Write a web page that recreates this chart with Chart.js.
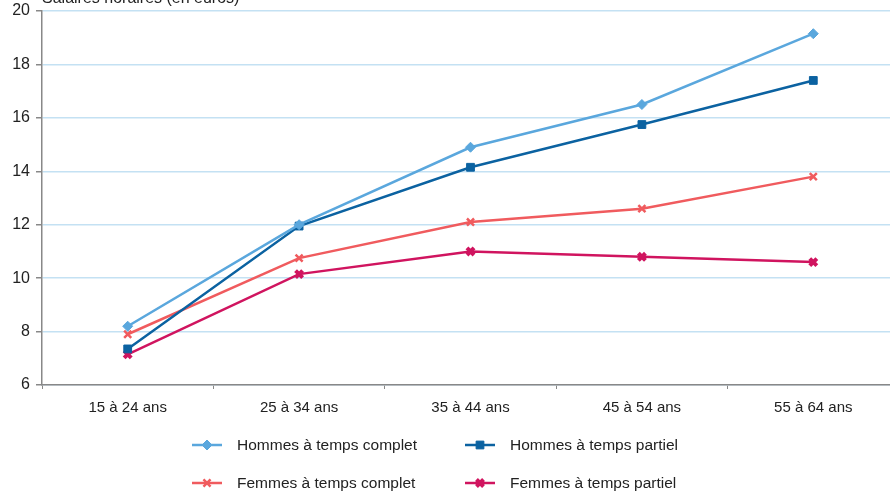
<!DOCTYPE html>
<html>
<head>
<meta charset="utf-8">
<script src="https://cdn.jsdelivr.net/npm/chart.js@4.4.0/dist/chart.umd.min.js"></script>
<style>
  html, body { margin: 0; padding: 0; background: #fff; overflow: hidden; }
</style>
</head>
<body>
<canvas id="graphe" width="908" height="493"></canvas>
<script>
var FONT = "'Liberation Sans', Arial, sans-serif";

var tranches = ["15 à 24 ans", "25 à 34 ans", "35 à 44 ans", "45 à 54 ans", "55 à 64 ans"];
var hommesComplet = [8.2, 12.0, 14.9, 16.5, 19.15];
var hommesPartiel = [7.35, 11.95, 14.15, 15.75, 17.4];
var femmesComplet = [7.9, 10.75, 12.1, 12.6, 13.8];
var femmesPartiel = [7.15, 10.15, 11.0, 10.8, 10.6];
var titreAxe = "Salaires horaires (en euros)";

function serie(label, data, couleur, forme, rayon, epaisseur) {
    return {
        label: label,
        data: data,
        borderColor: couleur,
        backgroundColor: couleur,
        borderWidth: 2.5,
        pointStyle: forme,
        pointRadius: rayon,
        pointBorderWidth: epaisseur,
        pointBackgroundColor: couleur,
        pointBorderColor: couleur,
        tension: 0,
        fill: false
    };
}

// legende dessinee a la main sur 2 colonnes
var legende = {
    id: 'legende',
    afterDraw: function (chart) {
        var ctx = chart.ctx;
        var cols = [192, 465];
        var rows = [445, 483];
        chart.data.datasets.forEach(function (ds, i) {
            var x = cols[i % 2], y = rows[Math.floor(i / 2)];
            ctx.save();
            ctx.strokeStyle = ds.borderColor;
            ctx.lineWidth = 2.5;
            ctx.beginPath();
            ctx.moveTo(x, y);
            ctx.lineTo(x + 30, y);
            ctx.stroke();
            ctx.fillStyle = ds.pointBackgroundColor;
            ctx.strokeStyle = ds.pointBorderColor;
            ctx.lineWidth = ds.pointBorderWidth;
            Chart.helpers.drawPoint(ctx, { pointStyle: ds.pointStyle, radius: ds.pointRadius, rotation: 0, borderWidth: ds.pointBorderWidth }, x + 15, y);
            ctx.fillStyle = '#222';
            ctx.font = '15.5px ' + FONT;
            ctx.textBaseline = 'middle';
            ctx.textAlign = 'left';
            ctx.fillText(ds.label, x + 45, y + 1);
            ctx.restore();
        });
        // titre de l'axe (coupe en haut)
        ctx.save();
        ctx.fillStyle = '#222';
        ctx.font = '16px ' + FONT;
        ctx.textBaseline = 'alphabetic';
        ctx.fillText(titreAxe, 42, 3);
        ctx.restore();
    }
};

var ctx = document.getElementById("graphe");
var myChart = new Chart(ctx, {
    type: 'line',
    data: {
        labels: tranches,
        datasets: [
            serie("Hommes à temps complet", hommesComplet, "#5aa7dd", 'rectRot', 5, 1),
            serie("Hommes à temps partiel", hommesPartiel, "#0b62a1", 'rect', 5.5, 1),
            serie("Femmes à temps complet", femmesComplet, "#f05b5e", 'crossRot', 5, 2.5),
            serie("Femmes à temps partiel", femmesPartiel, "#d0145f", 'crossRot', 5, 4)
        ]
    },
    options: {
        responsive: false,
        animation: false,
        layout: { padding: { top: 11, right: 0, bottom: 0, left: 0 } },
        plugins: {
            legend: { display: false },
            tooltip: { enabled: false }
        },
        scales: {
            x: {
                offset: true,
                afterFit: function (s) { s.height = 108; s.paddingLeft = 0; s.paddingRight = 0; },
                border: { color: '#888', width: 1.5 },
                grid: { offset: true, drawOnChartArea: false, drawTicks: true, tickLength: 4, color: '#888' },
                ticks: { color: '#222', font: { family: FONT, size: 15 }, padding: 10, maxRotation: 0 }
            },
            y: {
                min: 6,
                max: 20,
                afterFit: function (s) { s.width = 42; s.paddingTop = 0; s.paddingBottom = 0; },
                border: { color: '#888', width: 1.5 },
                grid: { color: '#c4e1f3', lineWidth: 1.5, tickLength: 6, tickColor: '#888' },
                ticks: { stepSize: 2, color: '#222', font: { family: FONT, size: 16 }, padding: 6 }
            }
        }
    },
    plugins: [legende]
});
</script>
</body>
</html>
